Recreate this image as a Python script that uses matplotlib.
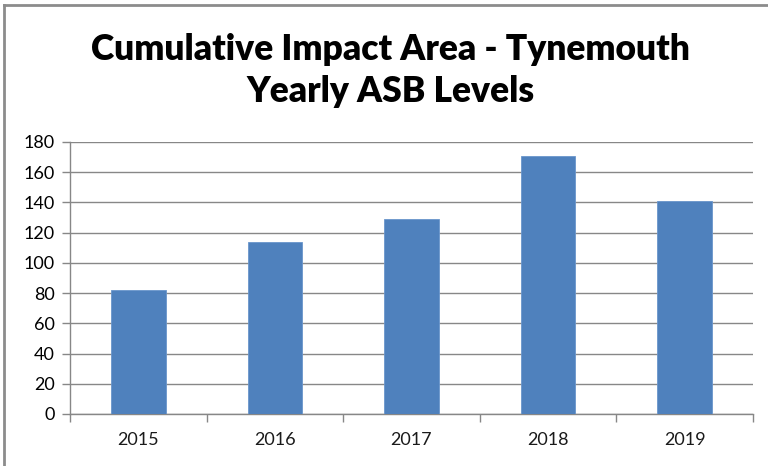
import matplotlib; matplotlib.use('Agg')
import matplotlib.pyplot as plt
from matplotlib.lines import Line2D
import numpy as np

plt.rcParams['font.family'] = ['Lato', 'DejaVu Sans']

years = ['2015', '2016', '2017', '2018', '2019']
asb = [82, 114, 129, 171, 141]
yticks = [0, 20, 40, 60, 80, 100, 120, 140, 160, 180]
BLUE = '#4F81BD'
GRID = '#878787'

fig = plt.figure(figsize=(7.68, 4.66), dpi=100)
# plot area in pixel terms: x 70..753, y 142..414 (from top)
ax = fig.add_axes([70/768, 1-414/466, (753-70)/768, (414-142)/466])

x = np.arange(len(years))
ax.bar(x, asb, width=0.4, color=BLUE, edgecolor='#6A96CC', lw=0.6, zorder=3)

ax.set_xlim(-0.5, len(years)-0.5)
ax.set_ylim(0, 180)
ax.set_yticks(yticks)
ax.yaxis.grid(True, color=GRID, lw=1.0, zorder=0)
ax.set_xticks(x)
ax.set_xticklabels(years)
ax.set_xticks(np.arange(len(years)+1)-0.5, minor=True)
ax.tick_params(axis='x', which='major', length=0, labelsize=13, pad=13, labelcolor='#1a1a1a')
ax.tick_params(axis='x', which='minor', length=6, width=1, color=GRID, direction='out')
ax.tick_params(axis='y', length=6, width=1, color=GRID, labelsize=13, labelcolor='#000000', pad=5)
for s in ['top', 'right']:
    ax.spines[s].set_visible(False)
for s in ['left', 'bottom']:
    ax.spines[s].set_color(GRID)
    ax.spines[s].set_linewidth(1.0)

fig.text(0.509, 1-50/466, 'Cumulative Impact Area - Tynemouth', ha='center', va='center',
         fontsize=25.5, fontweight='heavy', color='black')
fig.text(0.509, 1-92/466, 'Yearly ASB Levels', ha='center', va='center',
         fontsize=25.5, fontweight='heavy', color='black')

# outer chart border (top and left visible)
fig.add_artist(Line2D([4/768, 4/768], [0, 1-5/466], transform=fig.transFigure, color='#8C8C8C', lw=2))
fig.add_artist(Line2D([4/768, 1], [1-5/466, 1-5/466], transform=fig.transFigure, color='#8C8C8C', lw=2))

plt.savefig('out.png', dpi=100, facecolor='white')
